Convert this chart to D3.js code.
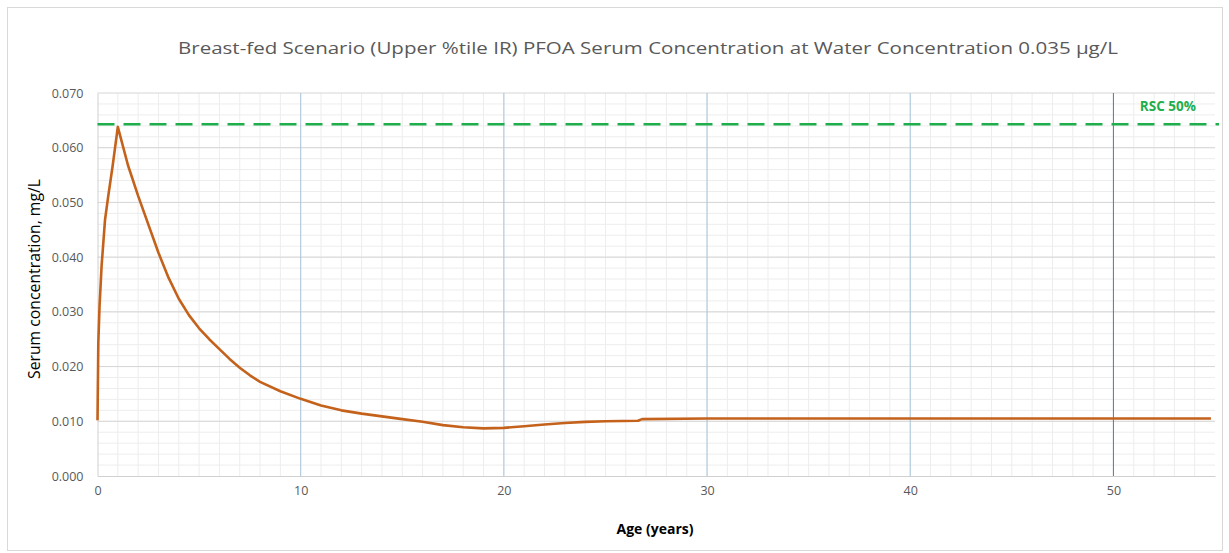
<!DOCTYPE html>
<html>
<head>
<meta charset="utf-8">
<script src="https://cdn.jsdelivr.net/npm/d3@7/dist/d3.min.js"></script>
<style>
  body { margin: 0; background: #fff; }
  text { font-family: "Open Sans", sans-serif; }
</style>
</head>
<body>
<div id="chart"></div>
<script>
// data
const ageYears = [0, 0.04, 0.1, 0.2, 0.37, 0.53, 0.75, 1.0, 1.5, 2.0, 2.5, 3.0, 3.5, 4.0, 4.5,
    5.0, 5.5, 6.0, 6.5, 7.0, 7.5, 8.0, 9.0, 10, 11, 12, 13, 14, 15, 16, 17, 18, 19, 20, 21, 22,
    23, 24, 25, 26.6, 26.8, 30, 35, 40, 45, 50, 54.8];
const serumConc = [0.0102, 0.0243, 0.031, 0.0383, 0.0468, 0.0512, 0.0568, 0.0638, 0.0568, 0.0512, 0.0460, 0.0408, 0.0362, 0.0324, 0.0294,
    0.0270, 0.0250, 0.0232, 0.0214, 0.0198, 0.0184, 0.0172, 0.0155, 0.0141, 0.0129, 0.0120, 0.0114, 0.0109, 0.0104, 0.0099, 0.0093, 0.0089, 0.0087, 0.0088, 0.0091, 0.0094,
    0.0097, 0.0099, 0.0100, 0.0101, 0.0104, 0.0105, 0.0105, 0.0105, 0.0105, 0.0105, 0.0105];
const rscValue = 0.0643;
const xTicks = [0, 10, 20, 30, 40, 50];
const yTicks = [0, 0.01, 0.02, 0.03, 0.04, 0.05, 0.06, 0.07];

const width = 1229, height = 553;
const margin = {top: 93, right: 14, bottom: 77, left: 97.5};

const svg = d3.select('#chart').append('svg')
    .attr('width', width)
    .attr('height', height);

// outer chart border
svg.append('rect')
    .attr('x', 7.5).attr('y', 7.5)
    .attr('width', width - 14).attr('height', height - 10)
    .attr('fill', 'none')
    .attr('stroke', '#d9d9d9');

const x = d3.scaleLinear().domain([0, 55]).range([margin.left, width - margin.right]);
const y = d3.scaleLinear().domain([0, 0.07]).range([height - margin.bottom, margin.top]);

const grid = svg.append('g');

// minor grid
grid.selectAll('.vminor')
    .data(d3.range(1, 55))
    .enter().append('line')
    .attr('x1', d => x(d)).attr('x2', d => x(d))
    .attr('y1', y(0)).attr('y2', y(0.07))
    .attr('stroke', '#ededed').attr('stroke-width', 1);

grid.selectAll('.hminor')
    .data(d3.range(1, 35).map(i => i * 0.002))
    .enter().append('line')
    .attr('x1', x(0)).attr('x2', x(55))
    .attr('y1', d => y(d)).attr('y2', d => y(d))
    .attr('stroke', '#ededed').attr('stroke-width', 1);

// major grid
grid.selectAll('.hmajor')
    .data(yTicks.slice(1))
    .enter().append('line')
    .attr('x1', x(0)).attr('x2', x(55))
    .attr('y1', d => y(d)).attr('y2', d => y(d))
    .attr('stroke', '#d6d6d6').attr('stroke-width', 1);

grid.selectAll('.vmajor')
    .data(xTicks.slice(1))
    .enter().append('line')
    .attr('x1', d => x(d)).attr('x2', d => x(d))
    .attr('y1', y(0)).attr('y2', y(0.07))
    .attr('stroke', d => d === 50 ? '#5a7a90' : '#a8c6da').attr('stroke-width', 1);

// axes
const xAxis = svg.append('g')
    .attr('transform', 'translate(0,' + y(0) + ')')
    .call(d3.axisBottom(x).tickValues(xTicks).tickSize(0).tickPadding(10));
xAxis.select('.domain').attr('stroke', '#d0d0d0');
xAxis.selectAll('text').attr('font-size', 12.5).attr('fill', '#595959')
    .style('font-family', '"Open Sans", sans-serif');

const yAxis = svg.append('g')
    .attr('transform', 'translate(' + x(0) + ',0)')
    .call(d3.axisLeft(y).tickValues(yTicks).tickFormat(d3.format('.3f')).tickSize(0).tickPadding(14));
yAxis.select('.domain').attr('stroke', '#d0d0d0');
yAxis.selectAll('text').attr('font-size', 12.5).attr('fill', '#595959')
    .style('font-family', '"Open Sans", sans-serif');

// RSC 50% line
svg.append('line')
    .attr('x1', x(0)).attr('x2', x(55) + 4)
    .attr('y1', y(rscValue)).attr('y2', y(rscValue))
    .attr('stroke', '#1fae4c')
    .attr('stroke-width', 2.5)
    .attr('stroke-dasharray', '17,9');

svg.append('text')
    .attr('x', x(51.3)).attr('y', y(rscValue) - 13)
    .attr('font-size', 13.5).attr('font-weight', 'bold')
    .attr('fill', '#1fae4c')
    .text('RSC 50%');

// serum curve
const line = d3.line()
    .x((d, i) => x(ageYears[i]))
    .y(d => y(d));

svg.append('path')
    .datum(serumConc)
    .attr('fill', 'none')
    .attr('stroke', '#c4621c')
    .attr('stroke-width', 2.6)
    .attr('stroke-linejoin', 'round')
    .attr('d', line);

// title and axis labels
svg.append('text')
    .attr('x', 178).attr('y', 54)
    .attr('font-size', 16).attr('fill', '#595959')
    .attr('textLength', 940).attr('lengthAdjust', 'spacingAndGlyphs')
    .text('Breast-fed Scenario (Upper %tile IR) PFOA Serum Concentration at Water Concentration 0.035 µg/L');

svg.append('text')
    .attr('transform', 'translate(40,' + 279 + ') rotate(-90)')
    .attr('text-anchor', 'middle')
    .attr('font-size', 15.5).attr('fill', '#000')
    .attr('textLength', 200).attr('lengthAdjust', 'spacingAndGlyphs')
    .text('Serum concentration, mg/L');

svg.append('text')
    .attr('x', 655).attr('y', 534)
    .attr('text-anchor', 'middle')
    .attr('font-size', 14).attr('font-weight', 'bold').attr('fill', '#000')
    .text('Age (years)');
</script>
</body>
</html>
